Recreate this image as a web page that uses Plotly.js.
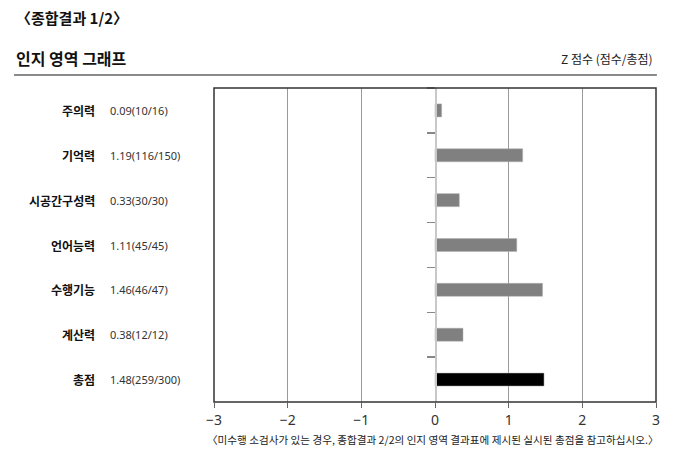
<!DOCTYPE html>
<html>
<head>
<meta charset="utf-8">
<script src="https://cdn.plot.ly/plotly-3.0.1.min.js"></script>
<style>html,body{margin:0;padding:0;background:#fff;}#chart{width:697px;height:453px;}</style>
</head>
<body>
<div id="chart"></div>
<script>
const categories = ['주의력', '기억력', '시공간구성력', '언어능력', '수행기능', '계산력', '총점'];
const zScores = [0.09, 1.19, 0.33, 1.11, 1.46, 0.38, 1.48];
const scoreLabels = ['0.09(10/16)', '1.19(116/150)', '0.33(30/30)', '1.11(45/45)', '1.46(46/47)', '0.38(12/12)', '1.48(259/300)'];
const xTicks = [-3, -2, -1, 0, 1, 2, 3];

const FONT = '"Noto Sans CJK KR", "Noto Sans", sans-serif';
const NUMFONT = '"Noto Sans", "Noto Sans CJK KR", sans-serif';
const barColors = categories.map((c, i) => i === categories.length - 1 ? '#000000' : '#808080');

const trace = {
  type: 'bar',
  orientation: 'h',
  x: zScores,
  y: categories,
  width: 0.29,
  marker: { color: barColors, line: { color: '#b0b0b0', width: 0.5 } },
  hoverinfo: 'skip'
};

const annotations = [];
categories.forEach((c, i) => {
  annotations.push({
    xref: 'paper', yref: 'y', x: -0.2647, y: c, xanchor: 'right', yanchor: 'middle',
    text: '<b>' + c + '</b>', showarrow: false, font: { family: FONT, size: 12, color: '#111' }
  });
  annotations.push({
    xref: 'paper', yref: 'y', x: -0.2398, y: c, xanchor: 'left', yanchor: 'middle',
    text: scoreLabels[i], showarrow: false, font: { family: NUMFONT, size: 11, color: '#333' }
  });
});
annotations.push({
  xref: 'paper', yref: 'paper', x: -0.4525, y: 1.226, xanchor: 'left', yanchor: 'middle',
  text: '<b>〈종합결과 1/2〉</b>', showarrow: false, font: { family: FONT, size: 15, color: '#111' }
});
annotations.push({
  xref: 'paper', yref: 'paper', x: -0.4525, y: 1.0955, xanchor: 'left', yanchor: 'middle',
  text: '<b>인지 영역 그래프</b>', showarrow: false, font: { family: FONT, size: 16, color: '#111' }
});
annotations.push({
  xref: 'paper', yref: 'paper', x: 0.9977, y: 1.0955, xanchor: 'right', yanchor: 'middle',
  text: 'Z 점수 (점수/총점)', showarrow: false, font: { family: FONT, size: 12, color: '#222' }
});
annotations.push({
  xref: 'paper', yref: 'paper', x: 0.4955, y: -0.118, xanchor: 'center', yanchor: 'middle',
  text: '〈미수행 소검사가 있는 경우, 종합결과 2/2의 인지 영역 결과표에 제시된 실시된 총점을 참고하십시오.〉',
  showarrow: false, font: { family: FONT, size: 10.6, color: '#222' }
});

const layout = {
  width: 697, height: 453,
  margin: { l: 214, r: 41, t: 88, b: 51 },
  paper_bgcolor: '#fff', plot_bgcolor: '#fff',
  showlegend: false,
  font: { family: FONT },
  xaxis: {
    range: [-3, 3], tickvals: xTicks, ticktext: xTicks.map(v => v < 0 ? '−' + Math.abs(v) : String(v)),
    showgrid: true, gridcolor: '#9a9a9a', gridwidth: 1, zeroline: false,
    ticks: 'outside', ticklen: 5, tickcolor: '#666', tickwidth: 1,
    tickfont: { family: '"Noto Sans", sans-serif', size: 14, color: '#333' },
    showline: false, fixedrange: true
  },
  yaxis: {
    type: 'category', categoryorder: 'array', categoryarray: categories,
    autorange: 'reversed', anchor: 'free', position: 0.5,
    showticklabels: false, showgrid: false, zeroline: false,
    showline: true, linecolor: '#c8c8c8', linewidth: 1.5,
    ticks: 'outside', tickson: 'boundaries', ticklen: 8, tickcolor: '#888', tickwidth: 1.5,
    fixedrange: true
  },
  bargap: 0.7,
  shapes: [
    { type: 'rect', xref: 'paper', yref: 'paper', x0: 0, x1: 1, y0: 0, y1: 1,
      line: { color: '#333', width: 1.5 }, layer: 'above' },
    { type: 'line', xref: 'paper', yref: 'paper', x0: -0.4525, x1: 1.002, y0: 1.0414, y1: 1.0414,
      line: { color: '#8a8a8a', width: 2 } }
  ],
  annotations: annotations
};

Plotly.newPlot('chart', [trace], layout, { displayModeBar: false, staticPlot: true });
</script>
</body>
</html>
